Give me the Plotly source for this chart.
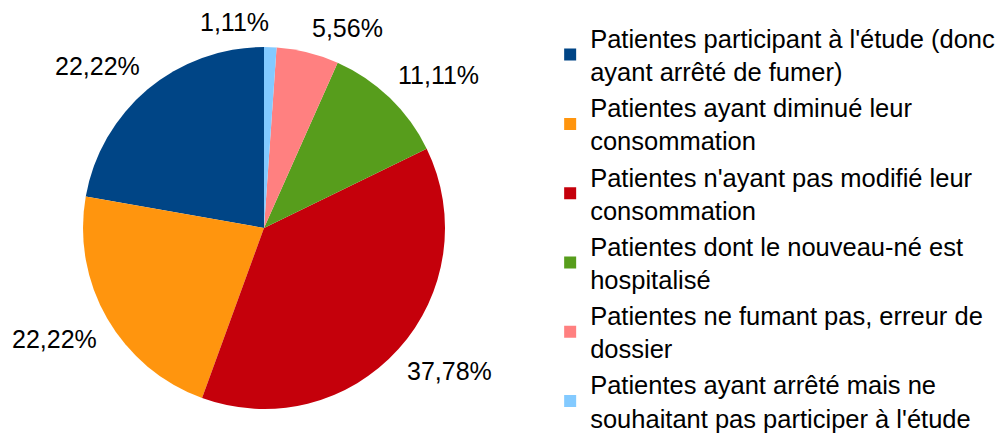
import math
import plotly.graph_objects as go

categories = [
    "Patientes participant à l'étude (donc<br>ayant arrêté de fumer)",
    "Patientes ayant diminué leur<br>consommation",
    "Patientes n'ayant pas modifié leur<br>consommation",
    "Patientes dont le nouveau-né est<br>hospitalisé",
    "Patientes ne fumant pas, erreur de<br>dossier",
    "Patientes ayant arrêté mais ne<br>souhaitant pas participer à l'étude",
]
values = [22.22, 22.22, 37.78, 11.11, 5.56, 1.11]
colors = ["#004586", "#ff950e", "#c5000b", "#579d1c", "#ff8080", "#83caff"]

W, H = 1004, 434
PAGE_OFF = 8                        # default page margin around the figure
CX, CY, R = 264 - PAGE_OFF, 228 - PAGE_OFF, 181   # pie centre / radius (px)
LABEL_R = R + 9                     # distance of value labels from centre

fig = go.Figure(go.Pie(
    labels=categories,
    values=values,
    sort=False,
    direction="counterclockwise",
    rotation=-80,
    marker=dict(colors=colors, line=dict(width=0)),
    textinfo="none",
    hoverinfo="label+value",
    domain=dict(x=[(CX - R) / W, (CX + R) / W],
                y=[1 - (CY + R) / H, 1 - (CY - R) / H]),
))

# value labels placed outside each slice, at its mid-angle
total = sum(values)
cum = 0.0
for v in values:
    mid = (cum + v / 2) / total * 2 * math.pi   # counterclockwise from 12 o'clock
    cum += v
    dx, dy = -math.sin(mid), -math.cos(mid)     # screen direction (y down)
    px, py = CX + LABEL_R * dx, CY + LABEL_R * dy
    fig.add_annotation(
        x=px / W, y=1 - py / H, xref="paper", yref="paper",
        text=f"{v:.2f}".replace(".", ",") + "%",
        showarrow=False,
        xanchor="left" if dx > 0.2 else "right",
        yanchor="bottom" if dy < 0 else "top",
        font=dict(family="Liberation Sans, Arial, sans-serif", size=25, color="black"),
    )

fig.update_layout(
    width=W, height=H,
    margin=dict(l=0, r=0, t=0, b=0),
    paper_bgcolor="white",
    plot_bgcolor="white",
    font=dict(family="Liberation Sans, Arial, sans-serif", size=25.5, color="black"),
    legend=dict(
        x=0.540, y=0.984, xanchor="left", yanchor="top",
        font=dict(size=25.5, color="black"),
        itemwidth=30, tracegroupgap=0, itemsizing="constant",
        bgcolor="rgba(0,0,0,0)",
    ),
)

fig.write_html("out.html")
